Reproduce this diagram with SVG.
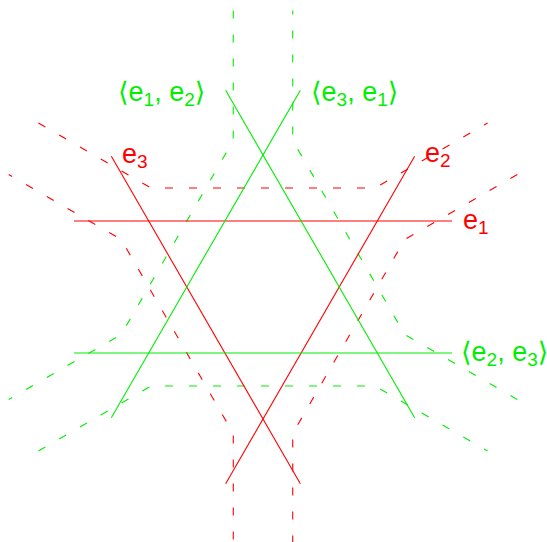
<svg xmlns="http://www.w3.org/2000/svg" xmlns:xlink="http://www.w3.org/1999/xlink" width="547" height="542" viewBox="0 0 547 542">
<style>
.r{stroke:#ff0000;fill:none;stroke-width:1.1}
.g{stroke:#00ee00;fill:none;stroke-width:1.1}
.d{stroke-dasharray:8 16}
text{font-family:"Liberation Sans","DejaVu Sans",sans-serif;font-size:27px}
.rt{fill:#ff0000}
.gt{fill:#00ee00}
.sub{font-size:19px}
</style>
<defs>
<path id="curve" d="M38.4 123 L151 188 L375 188 L487.6 123"/>
<line id="ln" x1="74" y1="221" x2="452" y2="221"/>
</defs>
<rect width="547" height="542" fill="#ffffff"/>
<g id="connectors">
<g id="red-dashed" class="r d">
<use xlink:href="#curve"/>
<use xlink:href="#curve" transform="rotate(120 263 287)"/>
<use xlink:href="#curve" transform="rotate(240 263 287)"/>
</g>
<g id="green-dashed" class="g d" transform="translate(0 574) scale(1 -1)">
<use xlink:href="#curve"/>
<use xlink:href="#curve" transform="rotate(120 263 287)"/>
<use xlink:href="#curve" transform="rotate(240 263 287)"/>
</g>
<g id="red-lines" class="r">
<use xlink:href="#ln"/>
<use xlink:href="#ln" transform="rotate(120 263 287)"/>
<use xlink:href="#ln" transform="rotate(240 263 287)"/>
</g>
<g id="green-lines" class="g" transform="translate(0 574) scale(1 -1)">
<use xlink:href="#ln"/>
<use xlink:href="#ln" transform="rotate(120 263 287)"/>
<use xlink:href="#ln" transform="rotate(240 263 287)"/>
</g>
</g>
<g id="label-e1"><text class="rt" x="463" y="229">e<tspan class="sub" dy="5">1</tspan></text></g>
<g id="label-e2"><text class="rt" x="425" y="162">e<tspan class="sub" dy="5">2</tspan></text></g>
<g id="label-e3"><text class="rt" x="122" y="163">e<tspan class="sub" dy="5">3</tspan></text></g>
<g id="label-e1e2"><text class="gt" x="118" y="101">⟨e<tspan class="sub" dy="5">1</tspan><tspan dy="-5">, e</tspan><tspan class="sub" dy="5">2</tspan><tspan dy="-5">⟩</tspan></text></g>
<g id="label-e3e1"><text class="gt" x="311" y="101">⟨e<tspan class="sub" dy="5">3</tspan><tspan dy="-5">, e</tspan><tspan class="sub" dy="5">1</tspan><tspan dy="-5">⟩</tspan></text></g>
<g id="label-e2e3"><text class="gt" x="461" y="361">⟨e<tspan class="sub" dy="5">2</tspan><tspan dy="-5">, e</tspan><tspan class="sub" dy="5">3</tspan><tspan dy="-5">⟩</tspan></text></g>
</svg>
